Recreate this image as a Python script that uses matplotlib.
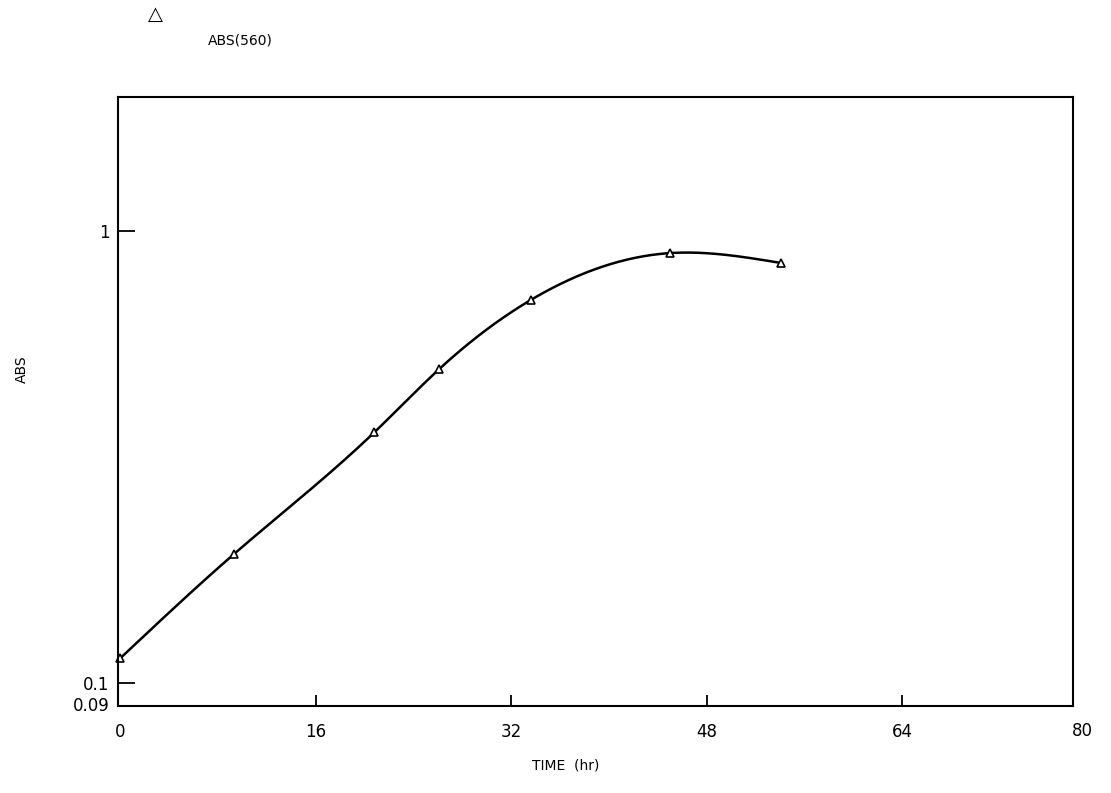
import numpy as np
import matplotlib
matplotlib.use("Agg")
import matplotlib.pyplot as plt

time_hr = [0.0, 9.3, 20.8, 26.1, 33.6, 45.0, 54.1]
abs_560 = [0.1136, 0.193, 0.359, 0.495, 0.704, 0.894, 0.850]
x_ticks = [0, 16, 32, 48, 64]
x_last_label = "80"
y_ticks = [0.09, 0.1, 1]
y_tick_labels = ["0.09", "0.1", "1"]


def natural_spline(x, y, xs):
    x = np.asarray(x, float); y = np.asarray(y, float)
    n = len(x)
    h = np.diff(x)
    A = np.zeros((n, n)); b = np.zeros(n)
    A[0, 0] = 1; A[-1, -1] = 1
    for i in range(1, n - 1):
        A[i, i - 1] = h[i - 1]
        A[i, i] = 2 * (h[i - 1] + h[i])
        A[i, i + 1] = h[i]
        b[i] = 6 * ((y[i + 1] - y[i]) / h[i] - (y[i] - y[i - 1]) / h[i - 1])
    M = np.linalg.solve(A, b)
    out = np.empty_like(xs)
    for k, xv in enumerate(xs):
        i = min(max(np.searchsorted(x, xv) - 1, 0), n - 2)
        t1 = x[i + 1] - xv; t0 = xv - x[i]
        out[k] = (M[i] * t1**3 + M[i + 1] * t0**3) / (6 * h[i]) \
            + (y[i] / h[i] - M[i] * h[i] / 6) * t1 \
            + (y[i + 1] / h[i] - M[i + 1] * h[i] / 6) * t0
    return out


plt.rcParams['font.family'] = ['DejaVu Sans']
fig = plt.figure(figsize=(11.11, 7.93), dpi=100)
ax = fig.add_axes([0.1062, 0.1097, 0.8596, 0.7680])

xs = np.linspace(time_hr[0], time_hr[-1], 400)
ys = 10 ** natural_spline(time_hr, np.log10(abs_560), xs)
ax.plot(xs, ys, color="black", lw=1.8)
ax.plot(time_hr, abs_560, linestyle="none", marker="^", markersize=6,
        markerfacecolor="white", markeredgecolor="black", markeredgewidth=1.2,
        clip_on=False)

ax.set_yscale("log")
ax.set_xlim(-0.2, 78.0)
ax.set_ylim(0.089, 1.98)
ax.set_xticks(x_ticks)
ax.set_xticklabels([str(v) for v in x_ticks], fontsize=12)
ax.text(1.01, -0.041, x_last_label, transform=ax.transAxes, fontsize=12,
        ha="center", va="center")
ax.set_yticks(y_ticks)
ax.set_yticklabels(y_tick_labels, fontsize=12)
ax.yaxis.set_minor_locator(matplotlib.ticker.NullLocator())
ax.tick_params(axis="y", direction="in", length=12, width=1.3, pad=6)
ax.tick_params(axis="x", direction="in", length=8, width=1.3, pad=12)
ax.yaxis.get_major_ticks()[0].tick1line.set_visible(False)
ax.xaxis.get_major_ticks()[0].tick1line.set_visible(False)
for s in ax.spines.values():
    s.set_linewidth(1.5)

ax.set_xlabel("TIME  (hr)", fontsize=10)
ax.xaxis.set_label_coords(0.469, -0.098)
ax.xaxis.label.set_va("center")
ax.set_ylabel("ABS", fontsize=10)
ax.yaxis.set_label_coords(-0.1005, 0.553)
ax.yaxis.label.set_va("center")

fig.text(155 / 1111, 1 - 14 / 793, "\u25b3", fontsize=14, ha="center", va="center",
         fontweight="bold")
fig.text(208 / 1111, 1 - 40 / 793, "ABS(560)", fontsize=10, ha="left", va="center")

fig.savefig("out.png", dpi=100)
